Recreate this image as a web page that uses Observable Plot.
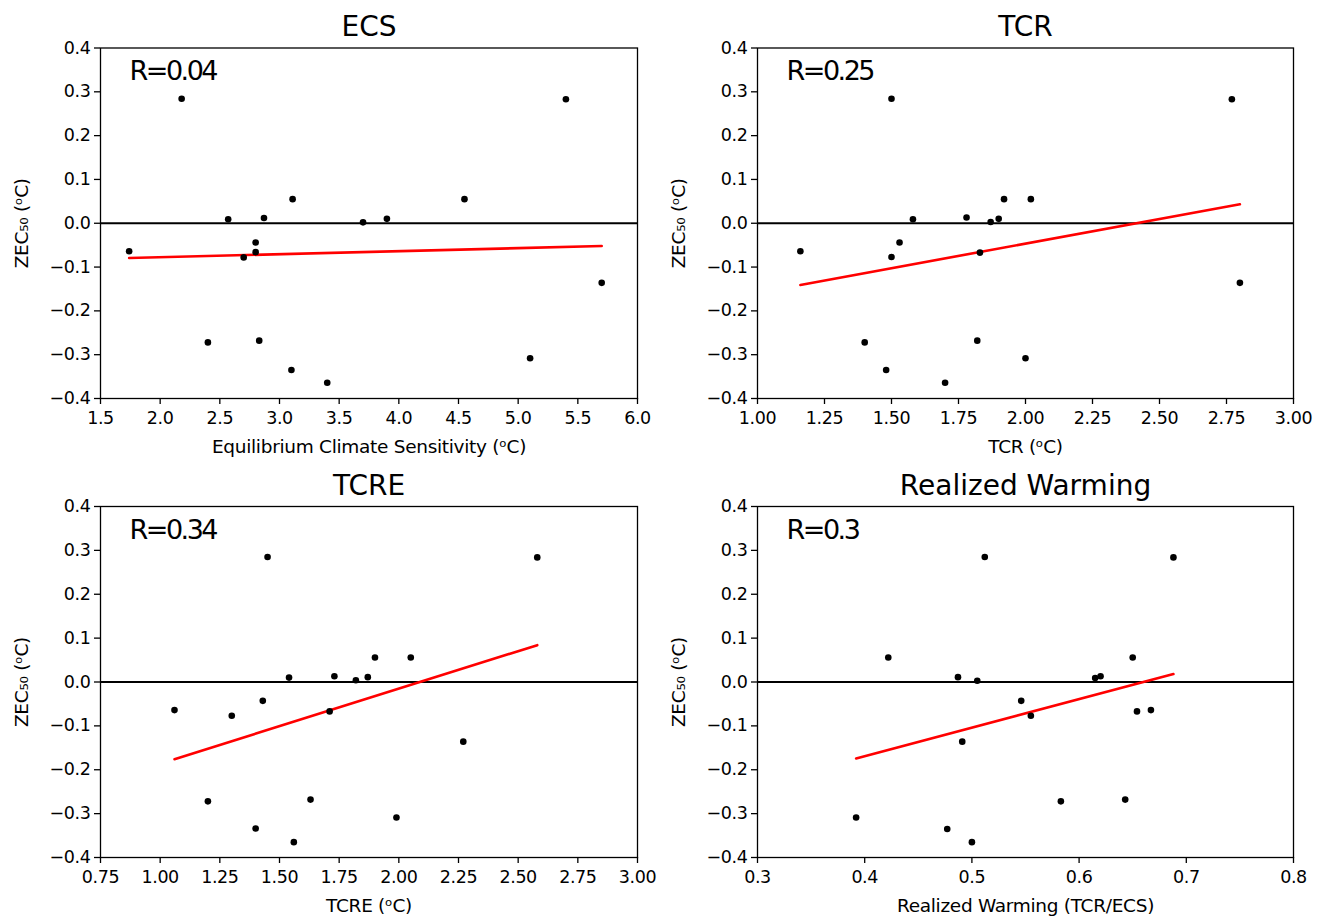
<!DOCTYPE html>
<html>
<head>
<meta charset="utf-8">
<script src="https://cdn.jsdelivr.net/npm/d3@7"></script>
<script src="https://cdn.jsdelivr.net/npm/@observablehq/plot@0.6"></script>
<style>
  html, body { margin: 0; padding: 0; background: white; }
  #fig { position: relative; width: 1317px; height: 917px; background: white; overflow: hidden; }
  .panel { position: absolute; }
  .panel svg [aria-label="x-axis label"] text, .panel svg [aria-label="y-axis label"] text { font-size: 18.5px; letter-spacing: -0.3px; }
  .panel svg [aria-label="x-axis tick label"] text, .panel svg [aria-label="y-axis tick label"] text { font-size: 17.5px; letter-spacing: -0.4px; }
</style>
</head>
<body>
<div id="fig"></div>
<script>
// ---- Data ----
const ecsX = [1.74, 2.18, 2.57, 2.40, 2.70, 2.80, 2.80, 2.87, 2.83, 3.11, 3.10, 3.40, 3.70, 3.90, 4.55, 5.10, 5.40, 5.70];
const ecsY = [-0.064, 0.284, 0.009, -0.272, -0.078, -0.044, -0.066, 0.012, -0.268, 0.055, -0.335, -0.364, 0.002, 0.010, 0.055, -0.308, 0.283, -0.136];

const tcrX = [1.16, 1.50, 1.40, 1.48, 1.50, 1.53, 1.58, 1.70, 1.78, 1.83, 1.82, 1.87, 1.90, 1.92, 2.02, 2.00, 2.77, 2.80];
const tcrY = [-0.064, 0.284, -0.272, -0.335, -0.077, -0.044, 0.009, -0.364, 0.013, -0.067, -0.268, 0.003, 0.010, 0.055, 0.055, -0.308, 0.283, -0.136];

const tcreX = [1.06, 1.45, 1.20, 1.30, 1.40, 1.43, 1.54, 1.56, 1.63, 1.71, 1.73, 1.82, 1.87, 1.90, 1.99, 2.05, 2.27, 2.58];
const tcreY = [-0.064, 0.285, -0.272, -0.077, -0.334, -0.043, 0.010, -0.365, -0.268, -0.067, 0.013, 0.004, 0.011, 0.056, -0.309, 0.056, -0.136, 0.284];

const rwX = [0.392, 0.422, 0.477, 0.487, 0.491, 0.500, 0.505, 0.512, 0.546, 0.555, 0.583, 0.615, 0.620, 0.643, 0.650, 0.654, 0.667, 0.688];
const rwY = [-0.309, 0.056, -0.335, 0.011, -0.136, -0.365, 0.003, 0.285, -0.043, -0.077, -0.272, 0.009, 0.013, -0.268, 0.056, -0.067, -0.064, 0.284];

const titles = ["ECS", "TCR", "TCRE", "Realized Warming"];
const rLabels = ["R=0.04", "R=0.25", "R=0.34", "R=0.3"];
const xLabels = ["Equilibrium Climate Sensitivity (\u1D52C)", "TCR (\u1D52C)", "TCRE (\u1D52C)", "Realized Warming (TCR/ECS)"];
const yLabel = "ZEC\u2085\u2080 (\u1D52C)";
const yTicks = [-0.4, -0.3, -0.2, -0.1, 0.0, 0.1, 0.2, 0.3, 0.4];
const ecsTicks = [1.5, 2.0, 2.5, 3.0, 3.5, 4.0, 4.5, 5.0, 5.5, 6.0];
const tcrTicks = [1.00, 1.25, 1.50, 1.75, 2.00, 2.25, 2.50, 2.75, 3.00];
const tcreTicks = [0.75, 1.00, 1.25, 1.50, 1.75, 2.00, 2.25, 2.50, 2.75, 3.00];
const rwTicks = [0.3, 0.4, 0.5, 0.6, 0.7, 0.8];

const FONT = "DejaVu Sans";

function panel(cfg) {
  const data = cfg.xs.map((x, i) => ({x, y: cfg.ys[i]}));
  const fmtX = d3.format(cfg.xFmt);
  const fmtY = d3.format(".1f");
  const chart = Plot.plot({
    width: cfg.width,
    height: cfg.height,
    marginLeft: cfg.ml,
    marginRight: cfg.mr,
    marginTop: cfg.mt,
    marginBottom: cfg.mb,
    style: {fontFamily: FONT, fontSize: "17px", background: "white", color: "black"},
    x: {domain: [cfg.xTicks[0], cfg.xTicks[cfg.xTicks.length - 1]]},
    y: {domain: [-0.4, 0.4]},
    marks: [
      Plot.ruleY([0], {stroke: "black", strokeWidth: 2.2}),
      Plot.linearRegressionY(data, {x: "x", y: "y", stroke: "red", strokeWidth: 2.6, ci: 0}),
      Plot.dot(data, {x: "x", y: "y", r: 3.3, fill: "black", stroke: "none"}),
      Plot.frame({stroke: "black", strokeWidth: 1.3}),
      Plot.axisX({ticks: cfg.xTicks, tickFormat: fmtX, tickSize: 6, tickPadding: 7, strokeWidth: 1.3,
        label: cfg.xLabel, labelAnchor: "center", labelOffset: 54.5, labelArrow: "none"}),
      Plot.axisY({ticks: yTicks, tickFormat: fmtY, tickSize: 6, tickPadding: 4, strokeWidth: 1.3,
        label: yLabel, labelAnchor: "center", labelOffset: 86, labelArrow: "none"}),
      Plot.text([cfg.r], {frameAnchor: "top-left", dx: 29, dy: 13, lineAnchor: "top", textAnchor: "start",
        fontSize: 27, fill: "black"}),
      Plot.text([cfg.title], {frameAnchor: "top", dy: -12, lineAnchor: "bottom", textAnchor: "middle",
        fontSize: 28, fill: "black"})
    ]
  });
  chart.querySelectorAll("text").forEach(t => {
    if (t.textContent === cfg.r) t.style.letterSpacing = "-2.5px";
  });
  const div = document.createElement("div");
  div.className = "panel";
  div.style.left = cfg.left + "px";
  div.style.top = cfg.top + "px";
  div.appendChild(chart);
  document.getElementById("fig").appendChild(div);
}

panel({xs: ecsX, ys: ecsY, xTicks: ecsTicks, xFmt: ".1f", xLabel: xLabels[0], title: titles[0], r: rLabels[0],
  left: 0, top: 0, width: 658, height: 458, ml: 100, mr: 21, mt: 47.5, mb: 60});
panel({xs: tcrX, ys: tcrY, xTicks: tcrTicks, xFmt: ".2f", xLabel: xLabels[1], title: titles[1], r: rLabels[1],
  left: 658, top: 0, width: 659, height: 458, ml: 99, mr: 24, mt: 47.5, mb: 60});
panel({xs: tcreX, ys: tcreY, xTicks: tcreTicks, xFmt: ".2f", xLabel: xLabels[2], title: titles[2], r: rLabels[2],
  left: 0, top: 458, width: 658, height: 459, ml: 100, mr: 21, mt: 48, mb: 60});
panel({xs: rwX, ys: rwY, xTicks: rwTicks, xFmt: ".1f", xLabel: xLabels[3], title: titles[3], r: rLabels[3],
  left: 658, top: 458, width: 659, height: 459, ml: 99, mr: 24, mt: 48, mb: 60});
</script>
</body>
</html>
